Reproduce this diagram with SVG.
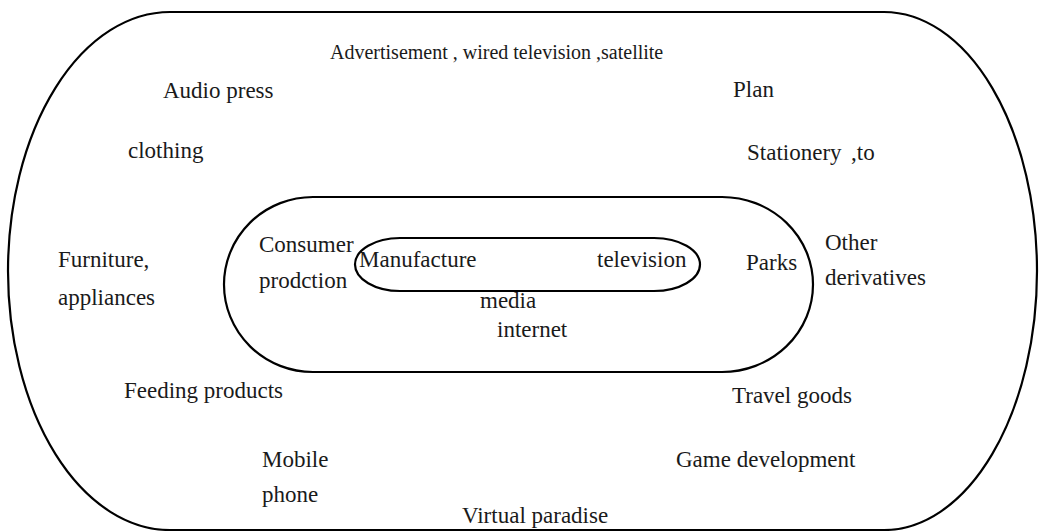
<svg xmlns="http://www.w3.org/2000/svg" width="1040" height="531" viewBox="0 0 1040 531">
<style>
.ring{fill:none;stroke:#000;stroke-width:2.2}
.t{font-family:'Liberation Serif','DejaVu Serif','Times New Roman',Times,serif;font-size:23px;fill:#1a1a1a}
.s{font-family:'Liberation Serif','DejaVu Serif','Times New Roman',Times,serif;font-size:20px;fill:#1a1a1a}
</style>
<rect width="1040" height="531" fill="#fff"/>
<g id="outer-ring"><path class="ring" d="M170,12 H884 A153,259 0 0 1 884,530 H170 A162,259 0 0 1 170,12 Z"/></g>
<g id="middle-ring"><path class="ring" d="M313,197 H722 A91,87.5 0 0 1 722,372 H313 A89,87.5 0 0 1 313,197 Z"/></g>
<g id="inner-ring"><path class="ring" d="M400,238 H654 A46,26.5 0 0 1 654,291 H400 A45,26.5 0 0 1 400,238 Z"/></g>
<g id="labels-outer">
<text class="s" x="330" y="59">Advertisement , wired television ,satellite</text>
<text class="t" x="163" y="98">Audio press</text>
<text class="t" x="733" y="97">Plan</text>
<text class="t" x="128" y="158">clothing</text>
<text class="t" x="747" y="160">Stationery<tspan x="851">,to</tspan></text>
<text class="t" x="58" y="267">Furniture,</text>
<text class="t" x="58" y="305">appliances</text>
<text class="t" x="825" y="250">Other</text>
<text class="t" x="825" y="285">derivatives</text>
<text class="t" x="124" y="398">Feeding products</text>
<text class="t" x="732" y="403">Travel goods</text>
<text class="t" x="262" y="467">Mobile</text>
<text class="t" x="262" y="502">phone</text>
<text class="t" x="676" y="467">Game development</text>
<text class="t" x="462" y="523">Virtual paradise</text>
</g>
<g id="labels-middle">
<text class="t" x="259" y="252">Consumer</text>
<text class="t" x="259" y="288">prodction</text>
<text class="t" x="746" y="270">Parks</text>
<text class="t" x="480" y="308">media</text>
<text class="t" x="497" y="337">internet</text>
</g>
<g id="labels-inner">
<text class="t" x="359" y="267">Manufacture</text>
<text class="t" x="597" y="267">television</text>
</g>
</svg>
